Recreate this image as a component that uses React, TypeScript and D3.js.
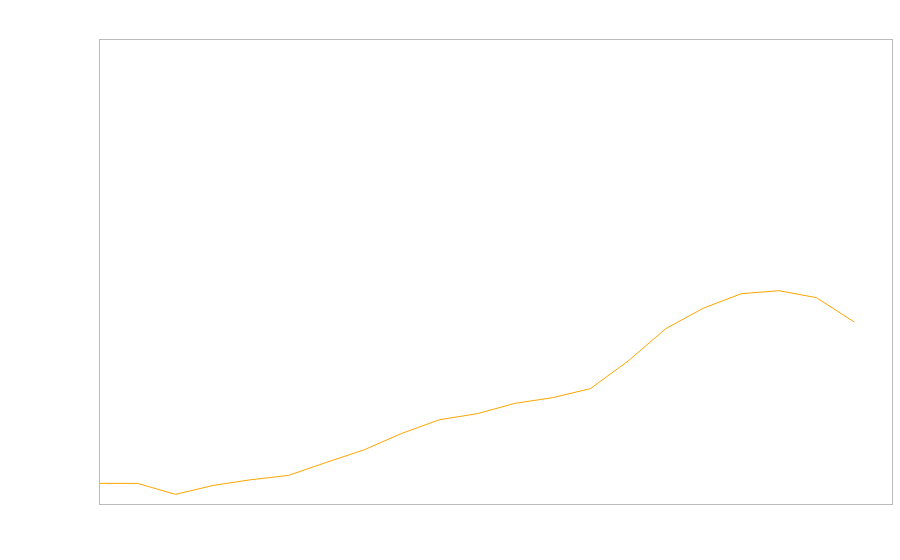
import React from "react";
import * as d3 from "d3";

const xIndex = [0, 1, 2, 3, 4, 5, 6, 7, 8, 9, 10, 11, 12, 13, 14, 15, 16, 17, 18, 19, 20];
const values = [4.53, 4.53, 2.16, 4.09, 5.32, 6.25, 9.05, 11.75, 15.3, 18.25, 19.55, 21.77, 23.0, 24.94, 30.88, 37.87, 42.3, 45.4, 46.06, 44.55, 39.3];

export default function App() {
  const W = 900, H = 560;
  const m = { left: 100, top: 40, right: 8, bottom: 56 };
  const x = d3.scaleLinear().domain([0, 21]).range([m.left, W - m.right]);
  const y = d3.scaleLinear().domain([0, 100]).range([H - m.bottom, m.top]);
  const line = d3.line<number>().x((_, i) => x(xIndex[i])).y((d) => y(d) + 0.4);
  return (
    <svg width={W} height={H} style={{ position: "absolute", left: 0, top: 0 }}>
      <rect
        x={x(0) - 0.5}
        y={y(100) - 0.5}
        width={x(21) - x(0) + 1}
        height={y(0) - y(100) + 1}
        fill="none"
        stroke="#bbbbbb"
        strokeWidth={1}
      />
      <path d={line(values) || ""} fill="none" stroke="orange" strokeWidth={1} />
    </svg>
  );
}
